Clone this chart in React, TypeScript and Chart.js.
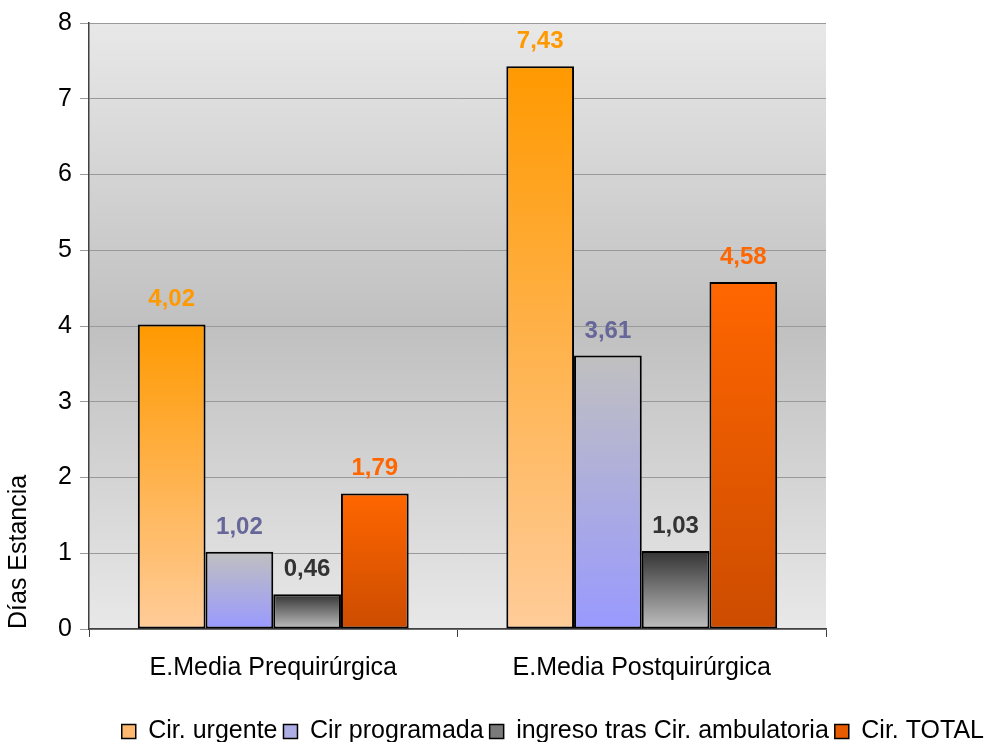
import React, { useEffect, useRef } from "react";
import { Chart, registerables } from "chart.js";

Chart.register(...registerables);

const categories = ["E.Media Prequirúrgica", "E.Media Postquirúrgica"];
const seriesNames = ["Cir. urgente", "Cir programada", "ingreso tras Cir. ambulatoria", "Cir. TOTAL"];
const urgente = [4.02, 7.43];
const programada = [1.02, 3.61];
const ambulatoria = [0.46, 1.03];
const total = [1.79, 4.58];
const yTicks = [0, 1, 2, 3, 4, 5, 6, 7, 8];

const gradTop = ["#FF9900", "#C0C0C0", "#333333", "#FF6600"];
const gradBottom = ["#FFCC99", "#9999FF", "#C0C0C0", "#CC4C00"];
const legendFill = ["#FFB870", "#AEAEE6", "#7A7A7A", "#E85C00"];
const labelColors = ["#FF9900", "#666699", "#333333", "#FF6600"];

const FONT = "'Liberation Sans', Arial, sans-serif";
const FS = 25;

function makeBg(i: number) {
  return (ctx: any) => {
    if (ctx.type !== "data") return legendFill[i];
    const chart = ctx.chart;
    const ys = chart.scales && chart.scales.y;
    if (!ys || !chart.chartArea) return legendFill[i];
    const top = ys.getPixelForValue(ctx.raw);
    const base = ys.getPixelForValue(0);
    if (!isFinite(top) || !isFinite(base) || top === base) return legendFill[i];
    const g = chart.ctx.createLinearGradient(0, top, 0, base);
    g.addColorStop(0, gradTop[i]);
    g.addColorStop(1, gradBottom[i]);
    return g;
  };
}

const bgPlugin = {
  id: "plotBg",
  beforeDraw(chart: any) {
    const { ctx, chartArea } = chart;
    if (!chartArea) return;
    const g = ctx.createLinearGradient(0, chartArea.top, 0, chartArea.bottom);
    g.addColorStop(0, "#E8E8E8");
    g.addColorStop(0.5, "#C0C0C0");
    g.addColorStop(1, "#E8E8E8");
    ctx.save();
    ctx.fillStyle = g;
    ctx.fillRect(chartArea.left, chartArea.top, chartArea.right - chartArea.left, chartArea.bottom - chartArea.top);
    ctx.restore();
  },
};

const labelPlugin = {
  id: "valueLabels",
  afterDatasetsDraw(chart: any) {
    const { ctx } = chart;
    ctx.save();
    ctx.font = `bold 24px ${FONT}`;
    ctx.textAlign = "center";
    ctx.textBaseline = "alphabetic";
    chart.data.datasets.forEach((ds: any, di: number) => {
      const meta = chart.getDatasetMeta(di);
      meta.data.forEach((el: any, i: number) => {
        const v = ds.data[i];
        ctx.fillStyle = labelColors[di];
        ctx.fillText(v.toFixed(2).replace(".", ","), el.x, el.y - 18);
      });
    });
    ctx.restore();
  },
};

export default function App() {
  const ref = useRef<HTMLCanvasElement>(null);
  useEffect(() => {
    if (!ref.current) return;
    const seriesData = [urgente, programada, ambulatoria, total];
    const chart = new Chart(ref.current, {
      type: "bar",
      data: {
        labels: categories,
        datasets: seriesData.map((d, i) => ({
          label: seriesNames[i],
          data: d,
          backgroundColor: makeBg(i),
          borderColor: "#000000",
          borderWidth: 2,
          borderSkipped: false,
          categoryPercentage: 0.735,
          barPercentage: 1,
        })),
      },
      options: {
        responsive: false,
        animation: false,
        devicePixelRatio: 1,
        layout: { padding: { top: 22, right: 0, left: 0, bottom: -12 } },
        plugins: {
          tooltip: { enabled: false },
          legend: {
            position: "bottom",
            align: "end",
            labels: {
              boxWidth: 14,
              boxHeight: 14,
              padding: 6,
              color: "#000",
              font: { family: FONT, size: FS },
              generateLabels: (c: any) =>
                c.data.datasets.map((ds: any, i: number) => ({
                  text: ds.label,
                  fillStyle: legendFill[i],
                  strokeStyle: "#000",
                  lineWidth: 1.5,
                  datasetIndex: i,
                  hidden: false,
                })),
            },
          },
        },
        scales: {
          x: {
            offset: true,
            grid: {
              offset: true,
              drawOnChartArea: false,
              drawTicks: true,
              tickLength: 8,
              color: "#404040",
            },
            border: { color: "#404040", width: 1.5 },
            ticks: { color: "#000", font: { family: FONT, size: FS }, padding: 16 },
            afterFit: (s: any) => {
              s.height = 84;
            },
          },
          y: {
            min: 0,
            max: 8,
            afterBuildTicks: (s: any) => {
              s.ticks = yTicks.map((v) => ({ value: v }));
            },
            grid: { color: "#999999", lineWidth: 1, tickLength: 9 },
            border: { color: "#404040", width: 1.5 },
            ticks: { color: "#000", font: { family: FONT, size: FS }, padding: 8 },
            title: {
              display: true,
              text: "Días Estancia",
              align: "start",
              color: "#000",
              font: { family: FONT, size: FS },
              padding: { top: 4, bottom: 0 },
            },
            afterFit: (s: any) => {
              s.width = 89;
            },
          },
          y2: {
            position: "right",
            display: true,
            grid: { display: false, drawTicks: false },
            border: { display: false },
            ticks: { display: false },
            afterFit: (s: any) => {
              s.width = 164;
            },
          },
        },
      },
      plugins: [bgPlugin, labelPlugin],
    });
    return () => chart.destroy();
  }, []);
  return (
    <div style={{ position: "absolute", left: 0, top: 0, width: 990, height: 742, background: "#fff" }}>
      <canvas ref={ref} width={990} height={742} />
    </div>
  );
}
